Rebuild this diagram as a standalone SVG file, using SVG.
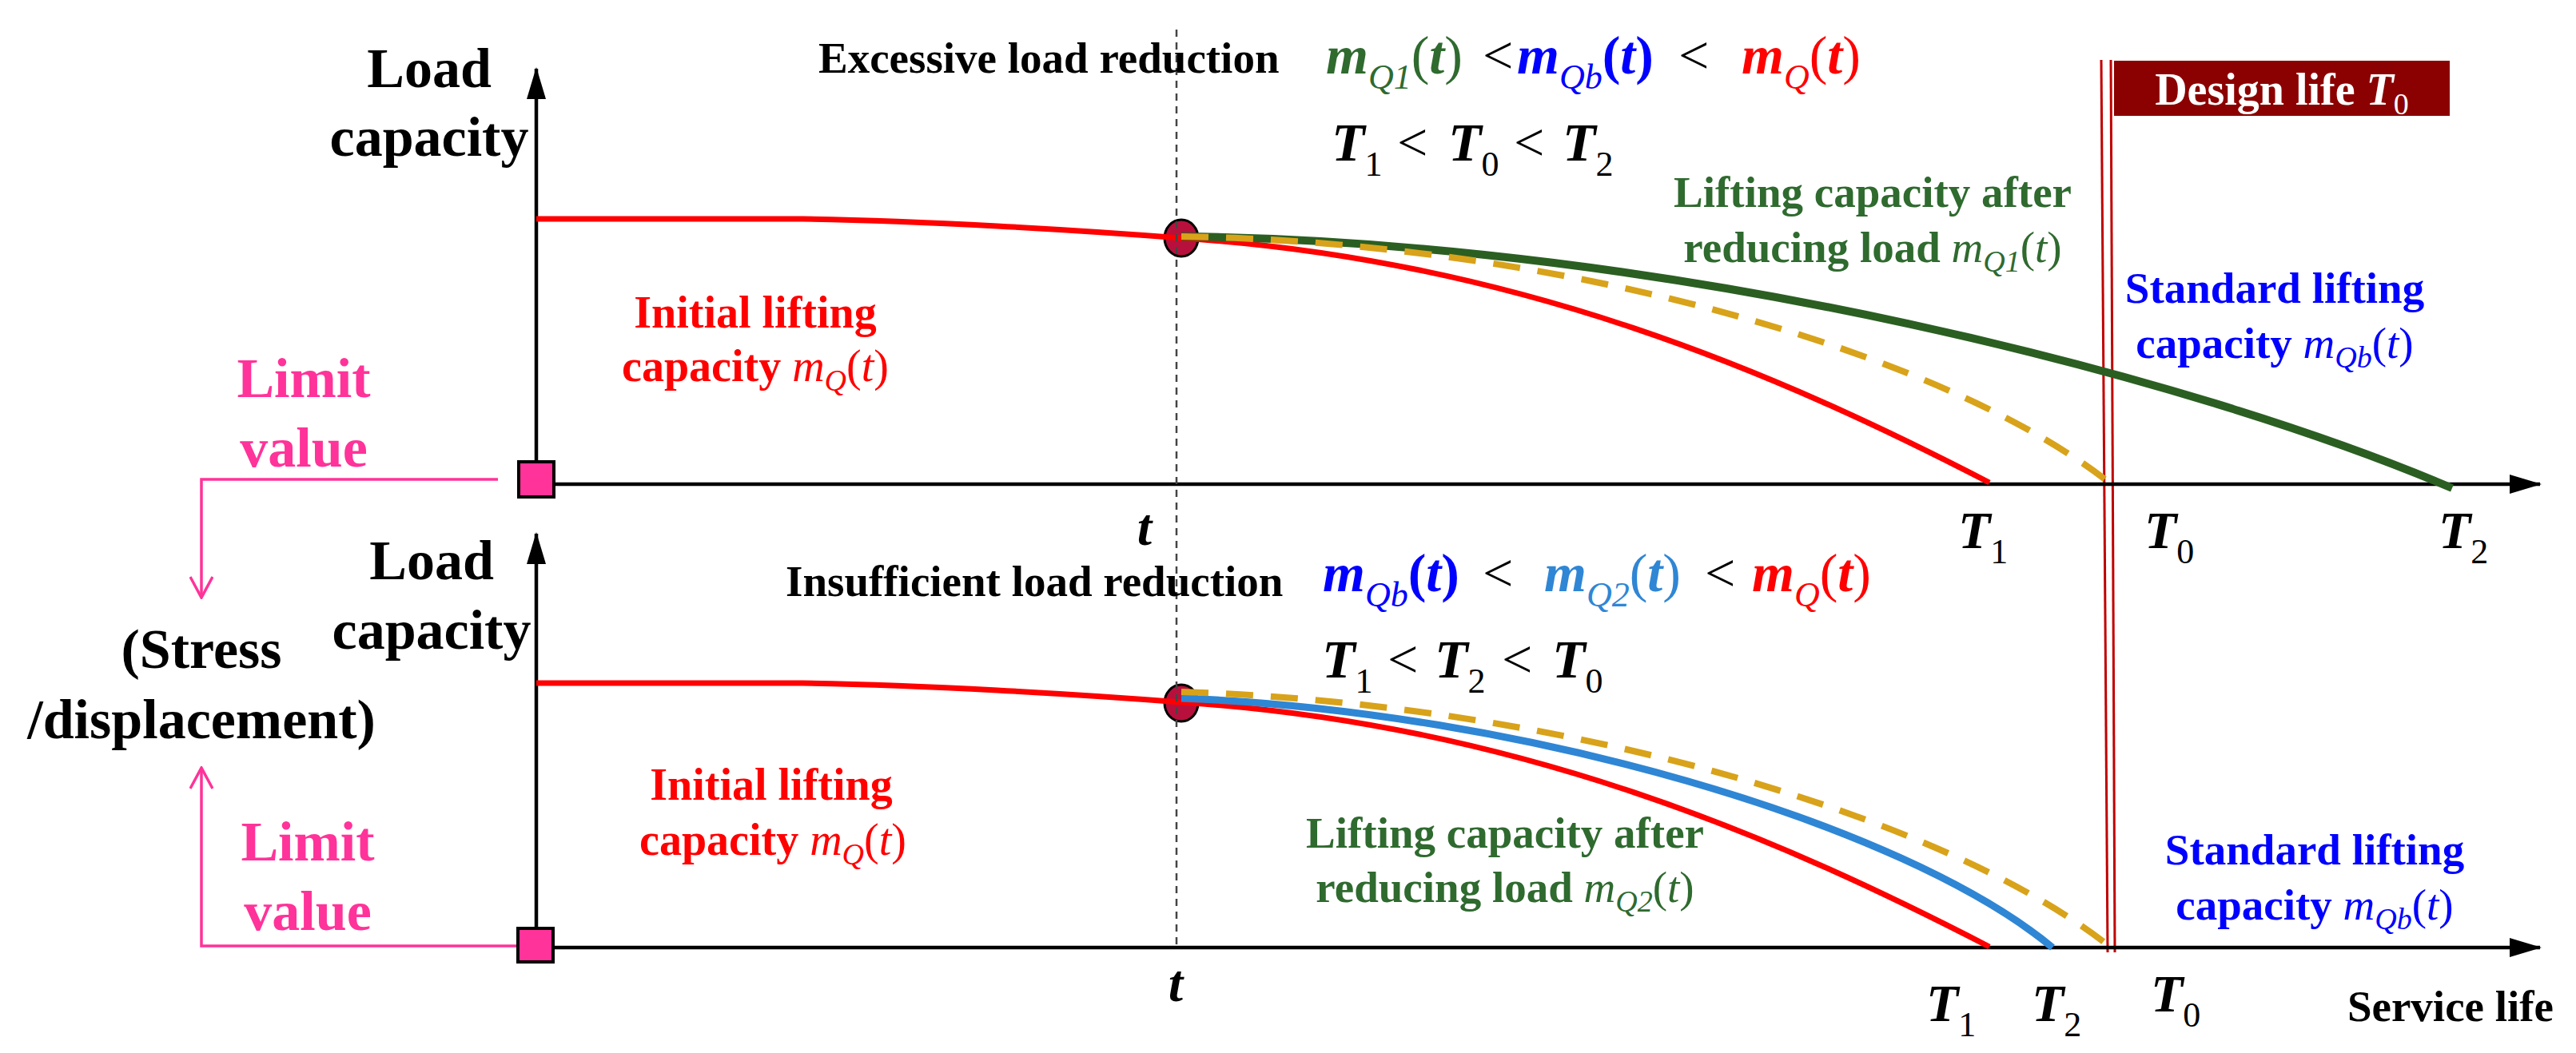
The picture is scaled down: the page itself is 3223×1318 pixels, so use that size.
<svg xmlns="http://www.w3.org/2000/svg" width="3223" height="1318" viewBox="0 0 3223 1318">
<style>
text{font-family:"Liberation Serif","Times New Roman",serif;font-weight:bold}
.ax{stroke:#000;stroke-width:4.5;fill:none}
.pk{stroke:#ff3399;stroke-width:3.5;fill:none}
.red{stroke:#ff0000;stroke-width:7;fill:none}
.grn{stroke:#2b5f22;stroke-width:10;fill:none}
.lb{stroke:#2f86d4;stroke-width:9;fill:none}
.dsh{stroke:#d8a31a;stroke-width:8;fill:none;stroke-dasharray:34 22}
.it{font-style:italic}
.nw{font-weight:normal}
.sub{font-size:44px;font-weight:normal;font-style:italic}
</style>
<defs>
<marker id="ah" viewBox="0 0 40 26" refX="38" refY="13" markerWidth="40" markerHeight="26" markerUnits="userSpaceOnUse" orient="auto">
<path d="M0,1 L40,13 L0,25 Z" fill="#000"/>
</marker>
<marker id="pv" viewBox="0 0 30 30" refX="28" refY="15" markerWidth="30" markerHeight="30" markerUnits="userSpaceOnUse" orient="auto">
<path d="M2,1 L28,15 L2,29" fill="none" stroke="#ff3399" stroke-width="3.5"/>
</marker>
</defs>
<rect width="3223" height="1318" fill="#fff"/>

<g id="design-life">
<line x1="2629" y1="75" x2="2637" y2="1192" stroke="#c00000" stroke-width="3"/>
<line x1="2641" y1="75" x2="2646" y2="1192" stroke="#c00000" stroke-width="3"/>
<rect x="2645" y="76" width="420" height="69" fill="#8b0000"/>
<text x="2855" y="131" font-size="56" fill="#fff" text-anchor="middle">Design life <tspan class="it">T</tspan><tspan font-size="38" font-weight="normal" dy="12">0</tspan></text>
</g>

<g id="axes">
<line class="ax" x1="671" y1="602" x2="671" y2="86" marker-end="url(#ah)"/>
<line class="ax" x1="671" y1="606" x2="3178" y2="606" marker-end="url(#ah)"/>
<line class="ax" x1="671" y1="1184" x2="671" y2="668" marker-end="url(#ah)"/>
<line class="ax" x1="671" y1="1186" x2="3178" y2="1186" marker-end="url(#ah)"/>
</g>

<g id="connectors">
<polyline class="pk" points="623,600 252,600 252,748" marker-end="url(#pv)"/>
<polyline class="pk" points="648,1184 252,1184 252,961" marker-end="url(#pv)"/>
</g>

<g id="markers">
<rect x="649" y="578" width="44" height="44" fill="#ff3399" stroke="#000" stroke-width="4"/>
<rect x="648" y="1162" width="44" height="42" fill="#ff3399" stroke="#000" stroke-width="4"/>
<ellipse cx="1478" cy="298" rx="21" ry="23" fill="#b8103c" stroke="#000" stroke-width="3"/>
<ellipse cx="1478" cy="880" rx="21" ry="23" fill="#b8103c" stroke="#000" stroke-width="3"/>
</g>

<g id="curves">
<path class="red" d="M671,274 L1004,274 C1150,276 1350,288 1478,298 C1900,325 2230,470 2489,604"/>
<path class="grn" d="M1478,296 C2100,303 2750,475 3068,611"/>
<path class="dsh" d="M1478,296 C1950,303 2430,440 2639,604"/>
<path class="red" d="M671,855 L1004,855 C1150,857 1350,869 1478,879 C1900,906 2230,1051 2489,1185"/>
<path class="lb" d="M1478,874 C1900,890 2380,1030 2568,1186"/>
<path class="dsh" d="M1478,866 C1950,880 2430,1021 2636,1182"/>
</g>

<g id="t-line">
<line x1="1472" y1="37" x2="1472" y2="1186" stroke="#444" stroke-width="2.5" stroke-dasharray="9 7"/>
</g>

<g id="axis-labels">
<text x="537" y="109" font-size="70" text-anchor="middle">Load</text>
<text x="537" y="195" font-size="70" text-anchor="middle">capacity</text>
<text x="540" y="725" font-size="70" text-anchor="middle">Load</text>
<text x="540" y="812" font-size="70" text-anchor="middle">capacity</text>
<text x="252" y="836" font-size="70" text-anchor="middle">(Stress</text>
<text x="252" y="924" font-size="70" text-anchor="middle">/displacement)</text>
<text x="380" y="497" font-size="70" fill="#ff3399" text-anchor="middle">Limit</text>
<text x="380" y="584" font-size="70" fill="#ff3399" text-anchor="middle">value</text>
<text x="385" y="1077" font-size="70" fill="#ff3399" text-anchor="middle">Limit</text>
<text x="385" y="1164" font-size="70" fill="#ff3399" text-anchor="middle">value</text>
<text x="3195" y="1278" font-size="55" text-anchor="end">Service life</text>
</g>

<g id="ticks" font-size="66">
<text x="1432" y="682" text-anchor="middle" class="it">t</text>
<text x="1471" y="1253" text-anchor="middle" class="it">t</text>
<text x="2450" y="686"><tspan class="it">T</tspan><tspan font-size="44" class="nw" dy="19">1</tspan></text>
<text x="2683" y="686"><tspan class="it">T</tspan><tspan font-size="44" class="nw" dy="19">0</tspan></text>
<text x="3051" y="686"><tspan class="it">T</tspan><tspan font-size="44" class="nw" dy="19">2</tspan></text>
<text x="2410" y="1278"><tspan class="it">T</tspan><tspan font-size="44" class="nw" dy="19">1</tspan></text>
<text x="2542" y="1278"><tspan class="it">T</tspan><tspan font-size="44" class="nw" dy="19">2</tspan></text>
<text x="2691" y="1266"><tspan class="it">T</tspan><tspan font-size="44" class="nw" dy="19">0</tspan></text>
</g>

<g id="top-case">
<text x="1024" y="91" font-size="55">Excessive load reduction</text>
<text y="92" font-size="68">
<tspan x="1659" fill="#2f6a2f" class="it">m</tspan><tspan fill="#2f6a2f" class="sub" dy="19">Q1</tspan><tspan fill="#2f6a2f" dy="-19" class="nw">(<tspan class="it" font-weight="bold">t</tspan>)</tspan>
<tspan x="1855" class="nw">&lt;</tspan>
<tspan x="1898" fill="#0000ff" class="it">m</tspan><tspan fill="#0000ff" class="sub" dy="19">Qb</tspan><tspan fill="#0000ff" dy="-19">(<tspan class="it">t</tspan>)</tspan>
<tspan x="2100" class="nw">&lt;</tspan>
<tspan x="2179" fill="#ff0000" class="it">m</tspan><tspan fill="#ff0000" class="sub" dy="19">Q</tspan><tspan fill="#ff0000" dy="-19" class="nw">(<tspan class="it" font-weight="bold">t</tspan>)</tspan>
</text>
<text y="201" font-size="68">
<tspan x="1666" class="it">T</tspan><tspan font-size="44" class="nw" dy="19">1</tspan>
<tspan x="1748" dy="-19" class="nw">&lt;</tspan>
<tspan x="1812" class="it">T</tspan><tspan font-size="44" class="nw" dy="19">0</tspan>
<tspan x="1894" dy="-19" class="nw">&lt;</tspan>
<tspan x="1955" class="it">T</tspan><tspan font-size="44" class="nw" dy="19">2</tspan>
</text>
<text x="945" y="410" font-size="56" fill="#ff0000" text-anchor="middle">Initial lifting</text>
<text x="945" y="477" font-size="56" fill="#ff0000" text-anchor="middle">capacity <tspan class="it nw">m</tspan><tspan class="it nw" font-size="38" dy="12">Q</tspan><tspan class="nw" dy="-12">(<tspan class="it">t</tspan>)</tspan></text>
<text x="2343" y="259" font-size="55" fill="#2f6a2f" text-anchor="middle">Lifting capacity after</text>
<text x="2343" y="328" font-size="55" fill="#2f6a2f" text-anchor="middle">reducing load <tspan class="it nw">m</tspan><tspan class="it nw" font-size="38" dy="12">Q1</tspan><tspan class="nw" dy="-12">(<tspan class="it">t</tspan>)</tspan></text>
<text x="2846" y="379" font-size="55" fill="#0000ff" text-anchor="middle">Standard lifting</text>
<text x="2846" y="448" font-size="55" fill="#0000ff" text-anchor="middle">capacity <tspan class="it nw">m</tspan><tspan class="it nw" font-size="38" dy="12">Qb</tspan><tspan class="nw" dy="-12">(<tspan class="it">t</tspan>)</tspan></text>
</g>

<g id="bottom-case">
<text x="983" y="746" font-size="55">Insufficient load reduction</text>
<text y="740" font-size="68">
<tspan x="1655" fill="#0000ff" class="it">m</tspan><tspan fill="#0000ff" class="sub" dy="19">Qb</tspan><tspan fill="#0000ff" dy="-19">(<tspan class="it">t</tspan>)</tspan>
<tspan x="1855" class="nw">&lt;</tspan>
<tspan x="1932" fill="#2f86d4" class="it">m</tspan><tspan fill="#2f86d4" class="sub" dy="19">Q2</tspan><tspan fill="#2f86d4" dy="-19" class="nw">(<tspan class="it" font-weight="bold">t</tspan>)</tspan>
<tspan x="2133" class="nw">&lt;</tspan>
<tspan x="2192" fill="#ff0000" class="it">m</tspan><tspan fill="#ff0000" class="sub" dy="19">Q</tspan><tspan fill="#ff0000" dy="-19" class="nw">(<tspan class="it" font-weight="bold">t</tspan>)</tspan>
</text>
<text y="848" font-size="68">
<tspan x="1654" class="it">T</tspan><tspan font-size="44" class="nw" dy="19">1</tspan>
<tspan x="1736" dy="-19" class="nw">&lt;</tspan>
<tspan x="1795" class="it">T</tspan><tspan font-size="44" class="nw" dy="19">2</tspan>
<tspan x="1879" dy="-19" class="nw">&lt;</tspan>
<tspan x="1942" class="it">T</tspan><tspan font-size="44" class="nw" dy="19">0</tspan>
</text>
<text x="965" y="1001" font-size="56" fill="#ff0000" text-anchor="middle">Initial lifting</text>
<text x="967" y="1070" font-size="56" fill="#ff0000" text-anchor="middle">capacity <tspan class="it nw">m</tspan><tspan class="it nw" font-size="38" dy="12">Q</tspan><tspan class="nw" dy="-12">(<tspan class="it">t</tspan>)</tspan></text>
<text x="1883" y="1061" font-size="55" fill="#2f6a2f" text-anchor="middle">Lifting capacity after</text>
<text x="1883" y="1129" font-size="55" fill="#2f6a2f" text-anchor="middle">reducing load <tspan class="it nw">m</tspan><tspan class="it nw" font-size="38" dy="12">Q2</tspan><tspan class="nw" dy="-12">(<tspan class="it">t</tspan>)</tspan></text>
<text x="2896" y="1082" font-size="55" fill="#0000ff" text-anchor="middle">Standard lifting</text>
<text x="2896" y="1151" font-size="55" fill="#0000ff" text-anchor="middle">capacity <tspan class="it nw">m</tspan><tspan class="it nw" font-size="38" dy="12">Qb</tspan><tspan class="nw" dy="-12">(<tspan class="it">t</tspan>)</tspan></text>
</g>
</svg>
